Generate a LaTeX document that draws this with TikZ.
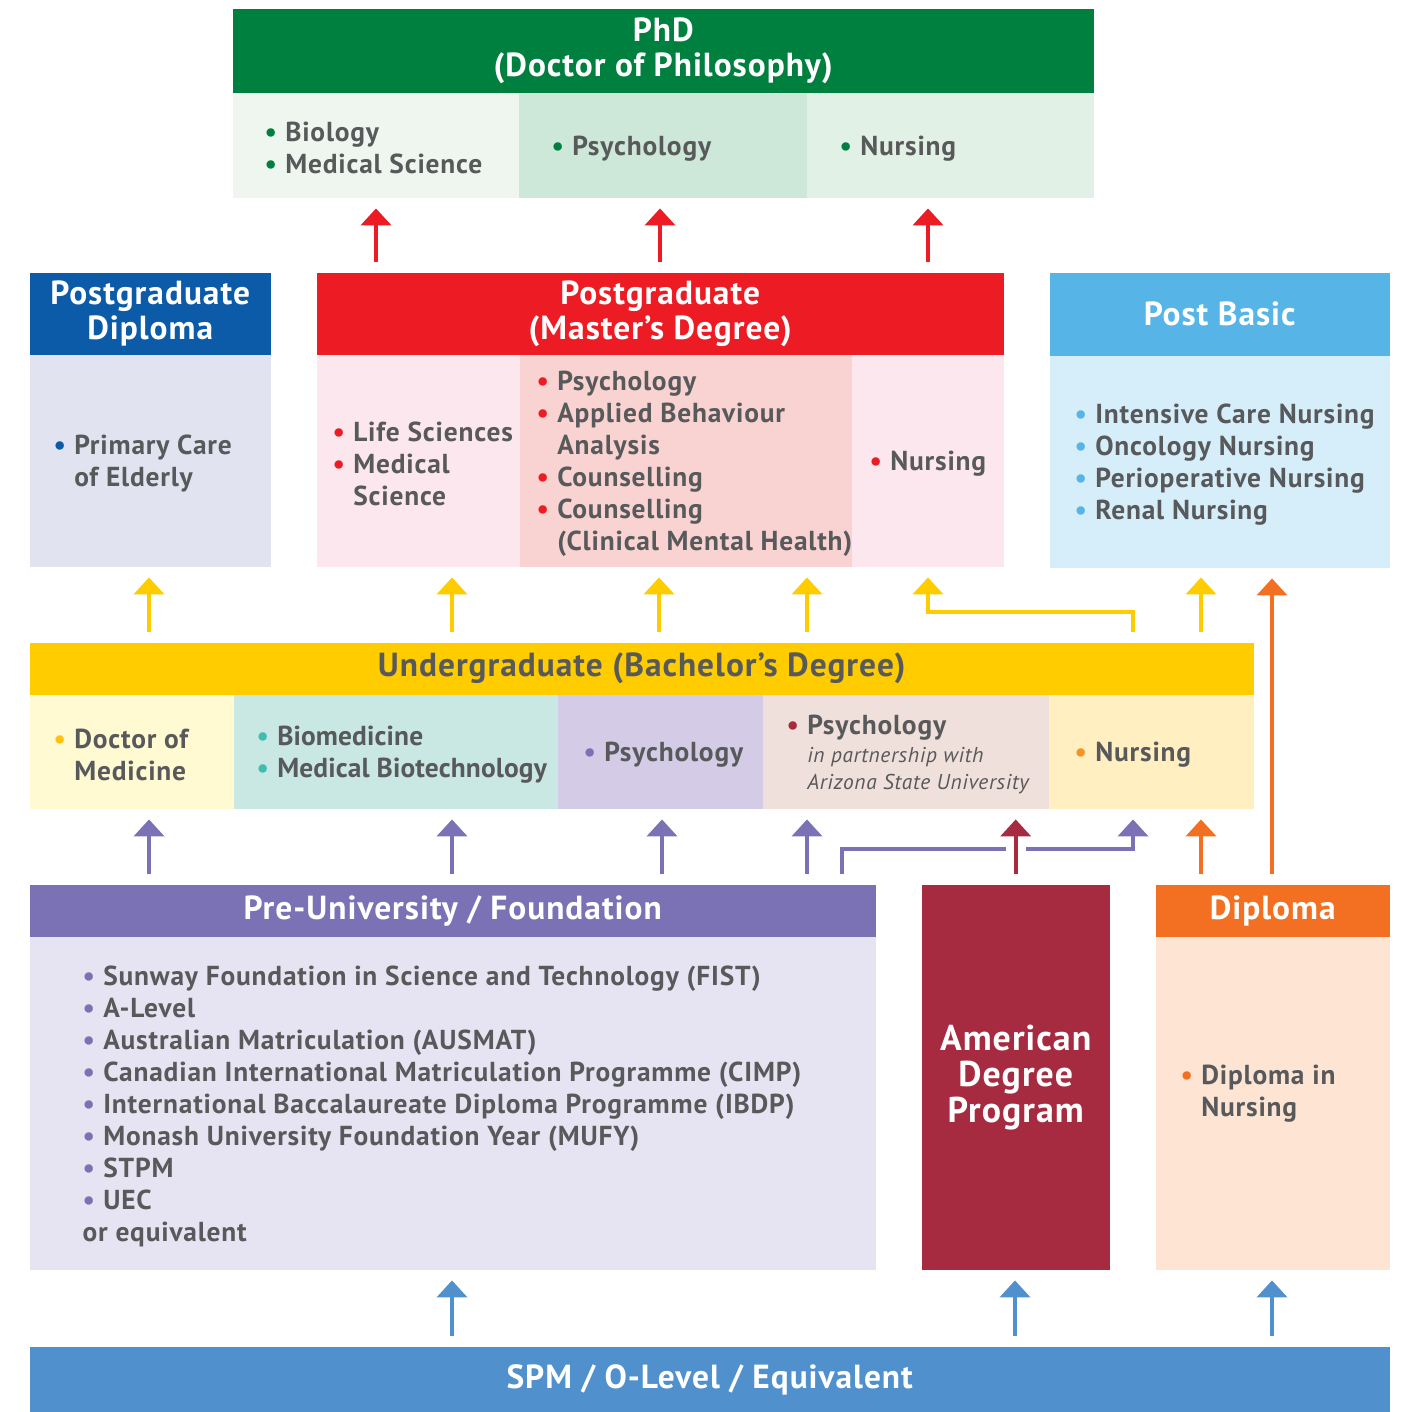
\documentclass[tikz,border=0pt]{standalone}
\usepackage{fontspec}
\setmainfont[LetterSpace=3]{PT Sans}
\usetikzlibrary{arrows.meta,positioning,calc}
\definecolor{ink}{HTML}{58595B}
\definecolor{phdgreen}{HTML}{00803F}
\definecolor{pgdblue}{HTML}{0B5BA8}
\definecolor{pgmred}{HTML}{ED1C24}
\definecolor{pbblue}{HTML}{56B4E6}
\definecolor{ugyellow}{HTML}{FFCC00}
\definecolor{prepurple}{HTML}{7A72B4}
\definecolor{adpmaroon}{HTML}{A62A40}
\definecolor{diporange}{HTML}{F37022}
\definecolor{spmblue}{HTML}{4F90CD}
\definecolor{ugteal}{HTML}{3DBFAD}
\definecolor{ugorange}{HTML}{F7941D}
\definecolor{ugyelbul}{HTML}{FFC20E}

\newcommand\hfont{\fontsize{9.5}{9.9}\selectfont\bfseries}
\newcommand\bfont{\fontsize{7.8}{9.1}\selectfont\bfseries}
\newcommand\bul[1]{\makebox[0.75em][l]{\textcolor{#1}{\textbullet}}}
\newcommand\ind{\hspace*{0.75em}}

\tikzset{
  hdr/.style={anchor=north west, inner sep=0pt, text=white, font=\hfont, align=center},
  pane/.style={anchor=north west, inner sep=0pt},
  txt/.style={anchor=west, inner sep=0pt, align=left, text=ink, font=\bfont},
  arr/.style={line width=1.15pt, -{Triangle[width=3mm,length=1.7mm]},
    shorten <=1mm, shorten >=1mm}
}

\begin{document}
\begin{tikzpicture}[x=0.1mm, y=-0.1mm]
\useasboundingbox (0,0) rectangle (1407,1412);

% ----------------------
% PhD
% ----------------------
\node[hdr, fill=phdgreen, minimum width=86.1mm, minimum height=8.4mm] (phdH) at (232,8)
{PhD\\(Doctor of Philosophy)};
\node[pane, fill={rgb,255:red,238;green,246;blue,239}, minimum width=28.6mm, minimum height=10.5mm] (phd1) at (232,92) {};
\node[pane, fill={rgb,255:red,205;green,231;blue,216}, minimum width=28.8mm, minimum height=10.5mm] (phd2) at (518,92) {};
\node[pane, fill={rgb,255:red,226;green,241;blue,230}, minimum width=28.7mm, minimum height=10.5mm] (phd3) at (806,92) {};
\node[txt] (phd1t) at ([xshift=3.2mm, yshift=-0.3mm]phd1.west) {\bul{phdgreen}Biology\\\bul{phdgreen}Medical Science};
\node[txt] (phd2t) at ([xshift=3.3mm, yshift=-0.3mm]phd2.west) {\bul{phdgreen}Psychology};
\node[txt] (phd3t) at ([xshift=3.3mm, yshift=-0.3mm]phd3.west) {\bul{phdgreen}Nursing};

% ----------------------
% Postgraduate row
% ----------------------
\node[hdr, fill=pgdblue, minimum width=24.1mm, minimum height=8.2mm] (pgdH) at (29,272)
{Postgraduate\\Diploma};
\node[pane, fill={rgb,255:red,225;green,227;blue,241}, minimum width=24.1mm, minimum height=21.2mm] (pgdB) at (29,354) {};
\node[txt] (pgdt) at ([xshift=2.4mm, yshift=-0.3mm]pgdB.west) {\bul{pgdblue}Primary Care\\\ind of Elderly};

\node[hdr, fill=pgmred, minimum width=68.7mm, minimum height=8.2mm] (pgmH) at (316,272)
{Postgraduate\\(Master's Degree)};
\node[pane, fill={rgb,255:red,252;green,231;blue,238}, minimum width=20.3mm, minimum height=21.2mm] (pgm1) at (316,354) {};
\node[pane, fill={rgb,255:red,249;green,211;blue,210}, minimum width=33.2mm, minimum height=21.2mm] (pgm2) at (519,354) {};
\node[pane, fill={rgb,255:red,252;green,231;blue,238}, minimum width=15.2mm, minimum height=21.2mm] (pgm3) at (851,354) {};
\node[txt] (pgm1t) at ([xshift=1.6mm, yshift=-0.3mm]pgm1.west) {\bul{pgmred}Life Sciences\\\bul{pgmred}Medical\\\ind Science};
\node[txt] (pgm2t) at ([xshift=1.7mm, yshift=-0.3mm]pgm2.west)
{\bul{pgmred}Psychology\\\bul{pgmred}Applied Behaviour\\\ind Analysis\\\bul{pgmred}Counselling\\\bul{pgmred}Counselling\\\ind (Clinical Mental Health)};
\node[txt] (pgm3t) at ([xshift=1.8mm, yshift=-0.3mm]pgm3.west) {\bul{pgmred}Nursing};

\node[hdr, fill=pbblue, minimum width=34.0mm, minimum height=8.3mm] (pbH) at (1049,272) {Post Basic};
\node[pane, fill={rgb,255:red,214;green,238;blue,250}, minimum width=34.0mm, minimum height=21.2mm] (pbB) at (1049,355) {};
\node[txt] (pbt) at ([xshift=2.5mm, yshift=-0.3mm]pbB.west)
{\bul{pbblue}Intensive Care Nursing\\\bul{pbblue}Oncology Nursing\\\bul{pbblue}Perioperative Nursing\\\bul{pbblue}Renal Nursing};

% ----------------------
% Undergraduate
% ----------------------
\node[hdr, fill=ugyellow, text=ink, minimum width=122.4mm, minimum height=5.2mm] (ugH) at (29,642)
{Undergraduate (Bachelor's Degree)};
\node[pane, fill={rgb,255:red,255;green,250;blue,210}, minimum width=20.4mm, minimum height=11.4mm] (ug1) at (29,694) {};
\node[pane, fill={rgb,255:red,201;green,232;blue,227}, minimum width=32.4mm, minimum height=11.4mm] (ug2) at (233,694) {};
\node[pane, fill={rgb,255:red,212;green,204;blue,230}, minimum width=20.5mm, minimum height=11.4mm] (ug3) at (557,694) {};
\node[pane, fill={rgb,255:red,240;green,224;blue,219}, minimum width=28.6mm, minimum height=11.4mm] (ug4) at (762,694) {};
\node[pane, fill={rgb,255:red,255;green,239;blue,193}, minimum width=20.5mm, minimum height=11.4mm] (ug5) at (1048,694) {};
\node[txt] (ug1t) at ([xshift=2.4mm, yshift=-0.3mm]ug1.west) {\bul{ugyelbul}Doctor of\\\ind Medicine};
\node[txt, font=\bfont\addfontfeature{LetterSpace=0.5}] (ug2t) at ([xshift=2.3mm, yshift=-0.3mm]ug2.west)
{\bul{ugteal}Biomedicine\\\bul{ugteal}Medical Biotechnology};
\node[txt] (ug3t) at ([xshift=2.6mm, yshift=-0.3mm]ug3.west) {\bul{prepurple}Psychology};
\node[txt] (ug4t) at ([xshift=2.4mm, yshift=-0.3mm]ug4.west)
{\bul{adpmaroon}Psychology\\[-1.3pt]
\ind{\fontsize{6.1}{7.3}\selectfont\mdseries\itshape in partnership with}\\[-1.3pt]
\ind{\fontsize{6.1}{7.3}\selectfont\mdseries\itshape Arizona State University}};
\node[txt] (ug5t) at ([xshift=2.6mm, yshift=-0.3mm]ug5.west) {\bul{ugorange}Nursing};

% ----------------------
% Entry level
% ----------------------
\node[hdr, fill=prepurple, minimum width=84.6mm, minimum height=5.2mm] (preH) at (29,884)
{Pre-University / Foundation};
\node[pane, fill={rgb,255:red,230;green,228;blue,242}, minimum width=84.6mm, minimum height=33.3mm] (preB) at (29,936) {};
\node[txt] (pret) at ([xshift=5.3mm, yshift=-0.3mm]preB.west)
{\bul{prepurple}Sunway Foundation in Science and Technology (FIST)\\
\bul{prepurple}A-Level\\
\bul{prepurple}Australian Matriculation (AUSMAT)\\
\bul{prepurple}Canadian International Matriculation Programme (CIMP)\\
\bul{prepurple}International Baccalaureate Diploma Programme (IBDP)\\
\bul{prepurple}Monash University Foundation Year (MUFY)\\
\bul{prepurple}STPM\\
\bul{prepurple}UEC\\
or equivalent};

\node[hdr, fill=adpmaroon, minimum width=18.8mm, minimum height=38.5mm,
  font=\fontsize{10.2}{10.2}\selectfont\bfseries] (adp) at (921,884)
{American\\Degree\\Program};

\node[hdr, fill=diporange, minimum width=23.4mm, minimum height=5.2mm] (dipH) at (1155,884) {Diploma};
\node[pane, fill={rgb,255:red,253;green,228;blue,211}, minimum width=23.4mm, minimum height=33.3mm] (dipB) at (1155,936) {};
\node[txt] (dipt) at ([xshift=2.5mm, yshift=1.0mm]dipB.west) {\bul{diporange}Diploma in\\\ind Nursing};

\node[hdr, fill=spmblue, minimum width=136.0mm, minimum height=6.6mm] (spm) at (29,1346)
{SPM / O-Level / Equivalent};

% ----------------------
% Arrows
% ----------------------
\foreach \xx in {376,660,928}
  \draw[arr, pgmred] (\xx,0 |- pgmH.north) -- (\xx,0 |- phd1.south);

\foreach \xx in {149,452,659,807,1201}
  \draw[arr, ugyellow] (\xx,0 |- ugH.north) -- (\xx,0 |- pgm1.south);
\draw[arr, ugyellow] (1133,0 |- ugH.north) |- (928,612) -- (928,0 |- pgm3.south);
\draw[arr, diporange] (1272,0 |- dipH.north) -- (1272,0 |- pbB.south);

\foreach \xx in {149,452,662,807}
  \draw[arr, prepurple] (\xx,0 |- preH.north) -- (\xx,0 |- ug1.south);
\draw[arr, prepurple] (842,0 |- preH.north) |- (1133,849) -- (1133,0 |- ug5.south);
\draw[arr, adpmaroon, preaction={draw=white, line width=2mm, -}] (adp.north) -- (adp.north |- ug4.south);
\draw[arr, diporange] (1201,0 |- dipH.north) -- (1201,0 |- ug5.south);

\foreach \xx in {452,1015,1272}
  \draw[arr, spmblue] (\xx,0 |- spm.north) -- (\xx,0 |- preB.south);

\end{tikzpicture}
\end{document}
